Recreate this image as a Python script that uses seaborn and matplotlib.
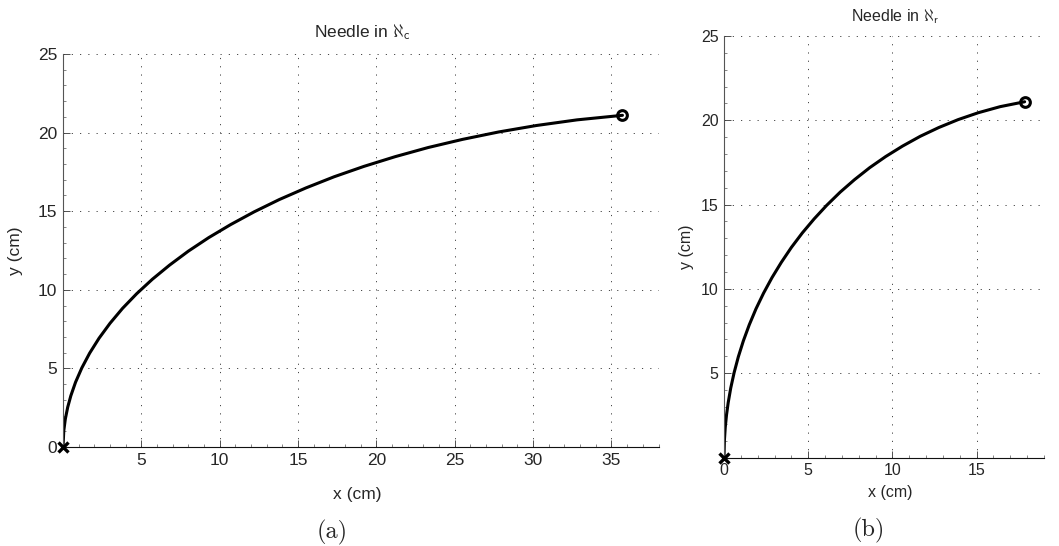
import matplotlib
matplotlib.use("Agg")
import matplotlib.pyplot as plt
import seaborn as sns
import pandas as pd
from matplotlib.ticker import MultipleLocator, FixedLocator

# ---- data ----
# panel (a): needle in aleph_c
xc = [0.0, 0.05, 0.15, 0.3, 0.5, 0.8, 1.2, 1.7, 2.3, 3.0, 3.8, 4.7, 5.7, 6.8, 8.0, 9.3,
      10.7, 12.2, 13.8, 15.5, 17.3, 19.2, 21.2, 23.3, 25.5, 27.8, 30.2, 32.8, 35.7]
yc = [0.0, 1.03, 1.79, 2.53, 3.26, 4.12, 5.03, 5.97, 6.92, 7.87, 8.82, 9.75, 10.67, 11.57,
      12.46, 13.32, 14.15, 14.96, 15.74, 16.48, 17.19, 17.85, 18.47, 19.05, 19.57, 20.04,
      20.45, 20.81, 21.1]
# panel (b): needle in aleph_r
xr = [0.0, 0.025, 0.075, 0.15, 0.25, 0.4, 0.6, 0.85, 1.15, 1.5, 1.9, 2.35, 2.85, 3.4, 4.0,
      4.65, 5.35, 6.1, 6.9, 7.75, 8.65, 9.6, 10.6, 11.65, 12.75, 13.9, 15.1, 16.4, 17.85]
yr = [0.0, 1.03, 1.79, 2.53, 3.26, 4.12, 5.03, 5.97, 6.92, 7.87, 8.82, 9.75, 10.67, 11.57,
      12.46, 13.32, 14.15, 14.96, 15.74, 16.48, 17.19, 17.85, 18.47, 19.05, 19.57, 20.04,
      20.45, 20.81, 21.1]

titles = [r"Needle in $\aleph_{\mathsf{c}}$", r"Needle in $\aleph_{\mathsf{r}}$"]
captions = ["(a)", "(b)"]
xlabel = "x (cm)"
ylabel = "y (cm)"
xticks_a = [5, 10, 15, 20, 25, 30, 35]
yticks_a = [0, 5, 10, 15, 20, 25]
xticks_b = [0, 5, 10, 15]
yticks_b = [5, 10, 15, 20, 25]

sns.set_style("white")
plt.rcParams['font.family'] = ['Liberation Sans', 'DejaVu Sans']
plt.rcParams['mathtext.fontset'] = 'cm'

W, H = 1059, 546
fig = plt.figure(figsize=(W / 100, H / 100), dpi=100)


def ax_at(l, t, r, b):
    return fig.add_axes([l / W, 1 - b / H, (r - l) / W, (b - t) / H])


ax1 = ax_at(63, 54, 658.5, 447)
ax2 = ax_at(724, 36, 1044, 457.5)

panels = [
    (ax1, xc, yc, (0, 38), (0, 25), xticks_a, yticks_a, 12.5, titles[0], 0.502, 1.042,
     (0.494, -0.12), (-0.079, 0.5), captions[0], 332, 532),
    (ax2, xr, yr, (0, 19), (0, 25), xticks_b, yticks_b, 11.5, titles[1], 0.534, 1.036,
     (0.519, -0.082), (-0.116, 0.5), captions[1], 869, 530),
]

for (ax, xs, ys, xlim, ylim, xt, yt, fs, title, tx, ty, xlc, ylc, cap, cx, cy) in panels:
    df = pd.DataFrame({"x": xs, "y": ys})
    sns.lineplot(data=df, x="x", y="y", ax=ax, sort=False, estimator=None,
                 color="black", lw=2.2)
    ax.plot(xs[0], ys[0], marker="x", ms=7, mew=2.4, color="black", clip_on=False, zorder=5)
    ax.plot(xs[-1], ys[-1], marker="o", ms=7, mew=2.2, mfc="none", mec="black",
            clip_on=False, zorder=5)
    ax.set_xlim(*xlim)
    ax.set_ylim(*ylim)
    ax.xaxis.set_major_locator(FixedLocator(xt))
    ax.yaxis.set_major_locator(FixedLocator(yt))
    ax.xaxis.set_minor_locator(MultipleLocator(1))
    ax.yaxis.set_minor_locator(MultipleLocator(1))
    ax.tick_params(which="major", direction="in", length=5, width=0.6,
                   labelsize=fs, pad=4, color="#333333", bottom=True, left=True)
    ax.tick_params(which="minor", direction="in", length=2.2, width=0.5,
                   color="#555555", bottom=True, left=True)
    ax.grid(True, which="major", ls=(0, (1.2, 7.3)), lw=0.7, color="#444444")
    for s in ["top", "right"]:
        ax.spines[s].set_visible(False)
    ax.spines["left"].set_color("#555555")
    ax.spines["left"].set_linewidth(0.8)
    ax.spines["bottom"].set_color("#111111")
    ax.spines["bottom"].set_linewidth(0.8)
    ax.set_xlabel(xlabel, fontsize=fs, va="center")
    ax.set_ylabel(ylabel, fontsize=fs, va="center")
    ax.xaxis.set_label_coords(*xlc)
    ax.yaxis.set_label_coords(*ylc)
    ax.text(tx, ty, title, transform=ax.transAxes, ha="center", va="baseline",
            fontsize=fs)
    fig.text(cx / W, 1 - cy / H, cap, ha="center", va="center", fontsize=17.5,
             family="cmr10")

fig.savefig("out.png", dpi=100)
